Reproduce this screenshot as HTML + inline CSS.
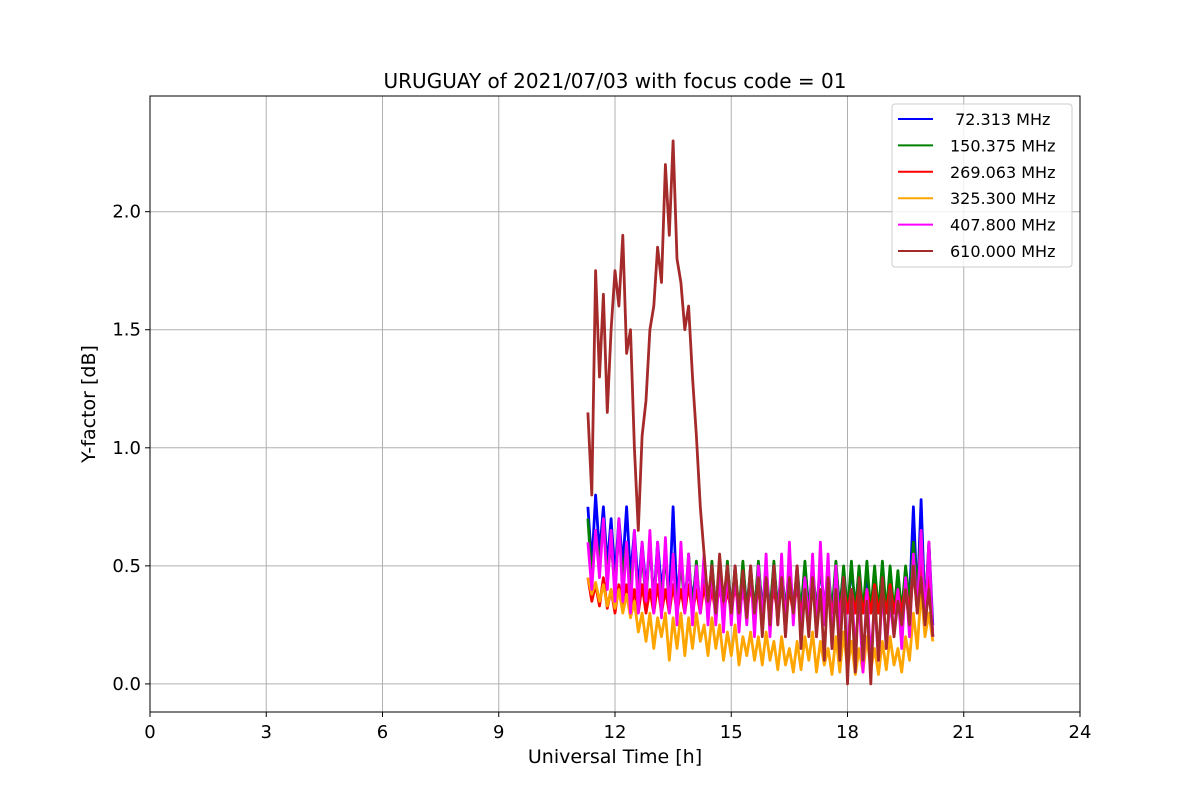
<!DOCTYPE html>
<html><head><meta charset="utf-8"><style>
body{margin:0;background:#fff;font-family:"Liberation Sans","DejaVu Sans",sans-serif}
svg{display:block}
</style></head><body>
<svg id="chart" width="1200" height="800" xmlns="http://www.w3.org/2000/svg" font-family="DejaVu Sans, Liberation Sans, sans-serif"></svg>
<script>
const xTicks=[0,3,6,9,12,15,18,21,24];
const yTicks=[0.0,0.5,1.0,1.5,2.0];
const yTickLabels=["0.0","0.5","1.0","1.5","2.0"];
const seriesNames=[" 72.313 MHz","150.375 MHz","269.063 MHz","325.300 MHz","407.800 MHz","610.000 MHz"];
const seriesColors=["blue","green","red","orange","magenta","brown"];
const startHour=11.3, stepHour=0.1;
const blue=[0.75,0.5,0.8,0.55,0.75,0.5,0.7,0.45,0.7,0.5, 0.75,0.45,0.65,0.4,0.6,0.4,0.6,0.35,0.6,0.4, 0.55,0.35,0.75,0.35,0.55,0.35,0.5,0.35,0.5,0.3, 0.48,0.32,0.5,0.32,0.48,0.3,0.5,0.32,0.48,0.3, 0.5,0.32,0.48,0.3,0.5,0.32,0.48,0.3,0.5,0.32, 0.48,0.3,0.5,0.32,0.48,0.3,0.5,0.32,0.48,0.3, 0.5,0.32,0.48,0.3,0.5,0.32,0.48,0.3,0.5,0.32, 0.48,0.3,0.45,0.3,0.48,0.3,0.45,0.3,0.48,0.3, 0.45,0.3,0.48,0.35,0.75,0.35,0.78,0.3,0.6,0.25];
const green=[0.7,0.45,0.65,0.5,0.7,0.45,0.6,0.4,0.65,0.45, 0.6,0.4,0.6,0.35,0.55,0.35,0.6,0.35,0.55,0.35, 0.55,0.32,0.55,0.3,0.52,0.32,0.55,0.3,0.52,0.3, 0.5,0.3,0.52,0.3,0.5,0.3,0.52,0.3,0.5,0.3, 0.52,0.3,0.5,0.3,0.52,0.3,0.5,0.3,0.52,0.3, 0.5,0.3,0.52,0.3,0.5,0.3,0.52,0.3,0.5,0.3, 0.52,0.3,0.5,0.3,0.52,0.3,0.5,0.3,0.52,0.3, 0.5,0.3,0.52,0.3,0.5,0.3,0.52,0.3,0.5,0.3, 0.48,0.3,0.5,0.35,0.6,0.4,0.65,0.3,0.6,0.2];
const red=[0.45,0.35,0.42,0.33,0.45,0.32,0.4,0.3,0.42,0.32, 0.42,0.3,0.4,0.3,0.42,0.3,0.4,0.3,0.42,0.3, 0.4,0.3,0.42,0.3,0.4,0.3,0.42,0.3,0.4,0.3, 0.42,0.3,0.4,0.3,0.42,0.3,0.4,0.3,0.42,0.3, 0.4,0.3,0.42,0.3,0.4,0.3,0.42,0.3,0.4,0.3, 0.42,0.3,0.4,0.3,0.42,0.3,0.4,0.3,0.42,0.3, 0.4,0.3,0.42,0.3,0.4,0.3,0.42,0.3,0.4,0.3, 0.42,0.3,0.4,0.3,0.42,0.3,0.4,0.3,0.42,0.3, 0.4,0.3,0.42,0.3,0.5,0.3,0.55,0.3,0.45,0.2];
const orange=[0.45,0.38,0.43,0.35,0.42,0.33,0.4,0.32,0.4,0.3, 0.38,0.28,0.35,0.22,0.3,0.18,0.3,0.15,0.28,0.2, 0.3,0.1,0.28,0.15,0.3,0.12,0.28,0.15,0.3,0.18, 0.25,0.12,0.28,0.15,0.25,0.1,0.22,0.12,0.25,0.08, 0.2,0.12,0.22,0.1,0.2,0.08,0.22,0.1,0.18,0.06, 0.2,0.08,0.15,0.05,0.18,0.06,0.2,0.1,0.22,0.05, 0.18,0.08,0.15,0.04,0.2,0.05,0.22,0.06,0.18,0.04, 0.15,0.05,0.2,0.06,0.15,0.04,0.18,0.06,0.2,0.08, 0.15,0.05,0.2,0.1,0.3,0.15,0.4,0.2,0.3,0.18];
const magenta=[0.6,0.4,0.65,0.45,0.7,0.4,0.65,0.35,0.7,0.35, 0.6,0.3,0.65,0.3,0.6,0.35,0.65,0.3,0.6,0.28, 0.62,0.3,0.55,0.25,0.6,0.3,0.55,0.25,0.5,0.3, 0.55,0.25,0.5,0.25,0.48,0.22,0.5,0.25,0.5,0.22, 0.45,0.25,0.5,0.2,0.5,0.25,0.55,0.2,0.5,0.25, 0.55,0.2,0.6,0.25,0.5,0.2,0.45,0.25,0.55,0.2, 0.6,0.25,0.55,0.15,0.5,0.2,0.45,0.1,0.4,0.15, 0.35,0.05,0.4,0.1,0.35,0.1,0.4,0.15,0.35,0.2, 0.4,0.15,0.45,0.2,0.55,0.3,0.65,0.25,0.6,0.2];
const brown=[1.15,0.8,1.75,1.3,1.65,1.15,1.5,1.75,1.6,1.9, 1.4,1.5,1.0,0.65,1.05,1.2,1.5,1.6,1.85,1.7, 2.2,1.9,2.3,1.8,1.7,1.5,1.6,1.3,1.05,0.75, 0.55,0.35,0.5,0.3,0.55,0.35,0.5,0.3,0.5,0.3, 0.48,0.28,0.5,0.3,0.45,0.2,0.45,0.25,0.5,0.25, 0.45,0.2,0.45,0.3,0.5,0.15,0.4,0.2,0.45,0.2, 0.4,0.1,0.45,0.15,0.4,0.1,0.45,0.0,0.4,0.05, 0.45,0.1,0.35,0.0,0.4,0.1,0.45,0.15,0.4,0.2, 0.35,0.25,0.4,0.25,0.5,0.3,0.45,0.25,0.4,0.2];
const seriesValues=[blue,green,red,orange,magenta,brown];

const L=150,R=1080,T=96,B=712;
const xMin=0,xMax=24,yMin=-0.119,yMax=2.49;
const xs=h=>L+(h-xMin)/(xMax-xMin)*(R-L);
const ys=v=>B-(v-yMin)/(yMax-yMin)*(B-T);
const svg=document.getElementById('chart');
const NS='http://www.w3.org/2000/svg';
function mk(tag,attrs,parent){const e=document.createElementNS(NS,tag);for(const k in attrs)e.setAttribute(k,attrs[k]);(parent||svg).appendChild(e);return e;}

xTicks.forEach(t=>{const l=mk('line',{x1:xs(t),x2:xs(t),y1:T,y2:B,stroke:'#b0b0b0','stroke-width':1});

});
yTicks.forEach(t=>{const l=mk('line',{x1:L,x2:R,y1:ys(t),y2:ys(t),stroke:'#b0b0b0','stroke-width':1});

});

seriesValues.forEach((arr,si)=>{
  const pts=arr.map((v,i)=>xs(startHour+i*stepHour).toFixed(1)+','+ys(v).toFixed(1)).join(' ');
  const p=mk('polyline',{points:pts,fill:'none',stroke:seriesColors[si],'stroke-width':2.8,'stroke-linejoin':'round'});
  
  
});

const fr=mk('rect',{x:L,y:T,width:R-L,height:B-T,fill:'none',stroke:'#000','stroke-width':1});



xTicks.forEach(t=>{
  mk('line',{x1:xs(t),x2:xs(t),y1:B,y2:B+5,stroke:'#000'});
  const tx=mk('text',{x:xs(t),y:B+26,'text-anchor':'middle','font-size':18});
  tx.textContent=t;
  
  
});
yTicks.forEach((t,i)=>{
  mk('line',{x1:L-5,x2:L,y1:ys(t),y2:ys(t),stroke:'#000'});
  const tx=mk('text',{x:L-9,y:ys(t)+6,'text-anchor':'end','font-size':18});
  tx.textContent=yTickLabels[i];
  
  
});

const title=mk('text',{x:615,y:88,'text-anchor':'middle','font-size':20});
title.textContent='URUGUAY of 2021/07/03 with focus code = 01';


const xt=mk('text',{x:615,y:763,'text-anchor':'middle','font-size':19});
xt.textContent='Universal Time [h]';


const yt=mk('text',{x:95,y:404,'text-anchor':'middle','font-size':19,transform:'rotate(-90 95 404)'});
yt.textContent='Y-factor [dB]';



const lg=mk('g',{});


mk('rect',{x:892,y:104,width:180,height:163,rx:3,fill:'#fff','fill-opacity':0.8,stroke:'#ccc'},lg);
seriesNames.forEach((n,i)=>{
  const y=119+i*26.4;
  const ln=mk('line',{x1:898,x2:933,y1:y,y2:y,stroke:seriesColors[i],'stroke-width':2},lg);
  
  
  const tx=mk('text',{x:950,y:y+6,'font-size':16},lg);
  tx.setAttribute('style','white-space:pre');
  tx.textContent=n;
  
  
});
</script>
</body></html>
